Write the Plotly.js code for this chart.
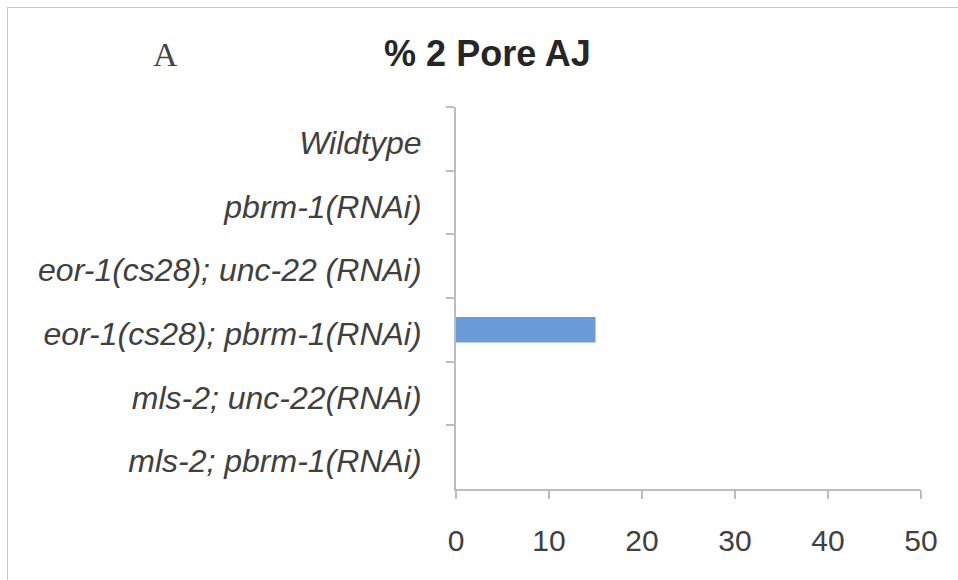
<!DOCTYPE html>
<html>
<head>
<meta charset="utf-8">
<script src="https://cdn.plot.ly/plotly-3.0.1.min.js"></script>
<style>
  html, body { margin: 0; padding: 0; background: #fff; }
  #wrap { position: relative; width: 958px; height: 580px; overflow: hidden; }
  #chart { position: absolute; left: 0; top: 0; width: 958px; height: 580px; }
  #frame { position: absolute; left: 7px; top: 7px; width: 1000px; height: 1000px;
           border: 1px solid #c8c8c8; pointer-events: none; }
</style>
</head>
<body>
<div id="wrap">
  <div id="chart"></div>
  <div id="frame"></div>
</div>
<script>
const categories = [
  "Wildtype",
  "pbrm-1(RNAi)",
  "eor-1(cs28); unc-22 (RNAi)",
  "eor-1(cs28); pbrm-1(RNAi)",
  "mls-2; unc-22(RNAi)",
  "mls-2; pbrm-1(RNAi)"
];
const pctTwoPoreAJ = [0, 0, 0, 15, 0, 0];
const xTickValues = [0, 10, 20, 30, 40, 50];
const chartTitle = "% 2 Pore AJ";
const panelLabel = "A";

const trace = {
  type: "bar",
  orientation: "h",
  y: categories,
  x: pctTwoPoreAJ,
  marker: { color: "#6b9bd7", line: { width: 0 } },
  hoverinfo: "x+y"
};

const layout = {
  width: 958,
  height: 580,
  margin: { l: 456, r: 37, t: 107, b: 91, pad: 0 },
  paper_bgcolor: "rgba(0,0,0,0)",
  plot_bgcolor: "rgba(0,0,0,0)",
  showlegend: false,
  bargap: 0.6,
  title: {
    text: "<b>" + chartTitle + "</b>",
    font: { family: "Liberation Sans, Arial, sans-serif", size: 36, color: "#262626" },
    x: 487.5 / 958,
    xanchor: "center",
    y: 1 - 53 / 580,
    yanchor: "middle"
  },
  annotations: [{
    text: panelLabel,
    xref: "paper", yref: "paper",
    x: (165 - 456) / 465, y: 1 + (107 - 55) / 382,
    xanchor: "center", yanchor: "middle",
    showarrow: false,
    font: { family: "Liberation Serif, Times New Roman, serif", size: 34, color: "#444" }
  }],
  xaxis: {
    range: [0, 50],
    tickvals: xTickValues,
    ticktext: xTickValues.map(String),
    showgrid: false,
    zeroline: false,
    showline: true,
    linecolor: "#bdbdbd",
    linewidth: 2,
    ticks: "outside",
    ticklen: 8,
    tickwidth: 2,
    tickcolor: "#bdbdbd",
    ticklabelstandoff: 16,
    tickfont: { family: "Liberation Sans, Arial, sans-serif", size: 30, color: "#404040" },
    fixedrange: true
  },
  yaxis: {
    type: "category",
    autorange: "reversed",
    showgrid: false,
    zeroline: false,
    showline: true,
    linecolor: "#bdbdbd",
    linewidth: 2,
    ticks: "outside",
    tickson: "boundaries",
    ticklen: 8,
    tickwidth: 2,
    tickcolor: "#bdbdbd",
    ticklabelstandoff: 26,
    ticklabelshift: -4,
    tickfont: { family: "Liberation Sans, Arial, sans-serif", size: 32, color: "#404040", style: "italic" },
    fixedrange: true
  }
};

Plotly.newPlot("chart", [trace], layout, { staticPlot: true, displayModeBar: false });
</script>
</body>
</html>
